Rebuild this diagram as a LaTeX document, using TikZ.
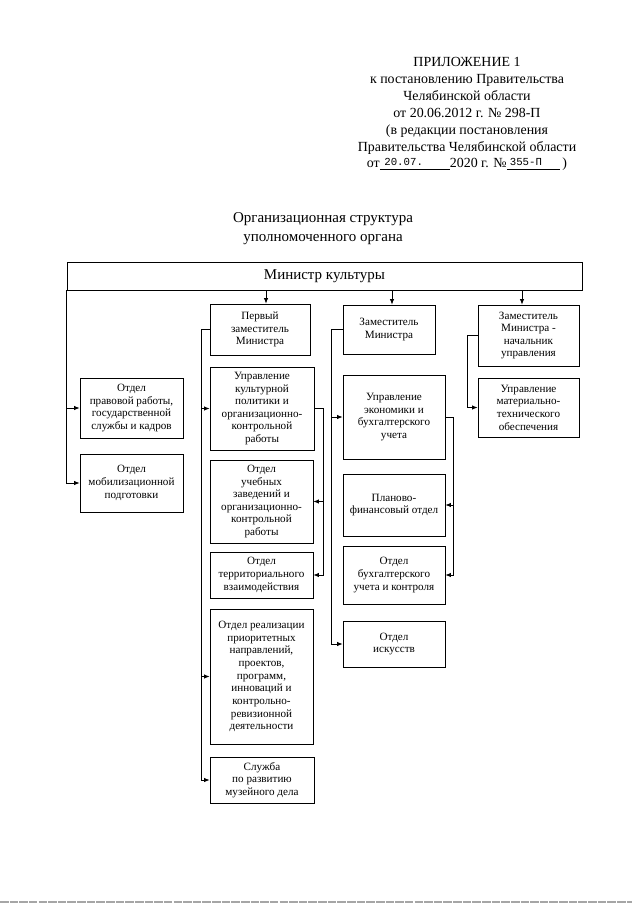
\documentclass[tikz,border=0pt]{standalone}
\usepackage{fontspec}
\setmainfont{Liberation Serif}
\newfontfamily\stampf{Liberation Mono}
\usetikzlibrary{arrows.meta,calc}
\newlength{\pxu}\setlength{\pxu}{0.328125mm}
\newcommand\orgbox[6]{\node[box, minimum width={(#4-#2)*\pxu}, minimum height={(#5-#3)*\pxu}] (#1) at ({(#2+#4)/2},{(#3+#5)/2}) {#6};}
\begin{document}
\begin{tikzpicture}[x=0.328125mm,y=-0.328125mm,
  box/.style={draw, line width=0.75pt, align=center, inner sep=0pt, font=\fontsize{10.4}{11.8}\selectfont},
  arr/.style={line width=0.75pt, -{Latex[length=5pt,width=4pt]}},
  ln/.style={line width=0.75pt}]
\fill[white] (0,0) rectangle (640,905);
\useasboundingbox (0,0) rectangle (640,905);

% header
\node[font=\fontsize{13}{15.8}\selectfont, align=center, anchor=north, inner sep=0pt] (hdr) at (467,57)
{ПРИЛОЖЕНИЕ 1\\к постановлению Правительства\\Челябинской области\\от 20.06.2012 г. № 298-П\\(в редакции постановления\\Правительства Челябинской области\\от\underline{\makebox[23mm][l]{\hspace{1.5mm}\raisebox{2.5pt}{\stampf\fontsize{10}{10}\selectfont 20.07.}}}2020 г. №\underline{\makebox[17.5mm][l]{\hspace{1mm}\raisebox{2.5pt}{\stampf\fontsize{10}{10}\selectfont 355-П}}}\,)};

% title
\node[font=\fontsize{14}{17.7}\selectfont, align=center, anchor=north, inner sep=0pt] (title) at (323,212)
{Организационная структура\\уполномоченного органа};

% boxes
\orgbox{min}{67}{262}{582}{290}{\fontsize{14}{16}\selectfont Министр культуры}
\orgbox{pravo}{80}{378}{183}{438}{Отдел\\правовой работы,\\государственной\\службы и кадров}
\orgbox{mob}{80}{454}{183}{512}{Отдел\\мобилизационной\\подготовки}
\orgbox{fd}{210}{304}{310}{355}{Первый\\заместитель\\Министра}
\orgbox{ukp}{210}{367}{314}{450}{Управление\\культурной\\политики и\\организационно-\\контрольной\\работы}
\orgbox{uch}{210}{460}{313}{543}{Отдел\\учебных\\заведений и\\организационно-\\контрольной\\работы}
\orgbox{terr}{210}{552}{313}{598}{Отдел\\территориального\\взаимодействия}
\orgbox{real}{210}{609}{313}{744}{Отдел реализации\\приоритетных\\направлений,\\проектов,\\программ,\\инноваций и\\контрольно-\\ревизионной\\деятельности}
\orgbox{muz}{210}{757}{314}{803}{Служба\\по развитию\\музейного дела}
\orgbox{dep}{343}{305}{435}{354}{Заместитель\\Министра}
\orgbox{econ}{343}{375}{445}{459}{Управление\\экономики и\\бухгалтерского\\учета}
\orgbox{plan}{343}{474}{445}{536}{Планово-\\финансовый отдел}
\orgbox{buh}{343}{546}{445}{604}{Отдел\\бухгалтерского\\учета и контроля}
\orgbox{isk}{343}{621}{445}{667}{Отдел\\искусств}
\orgbox{dh}{478}{305}{579}{366}{Заместитель\\Министра -\\начальник\\управления}
\orgbox{mat}{478}{378}{579}{437}{Управление\\материально-\\технического\\обеспечения}

% connectors from minister
\coordinate (a1) at (266,290);
\coordinate (a2) at (392,290);
\coordinate (a3) at (522,290);
\draw[arr] (a1) -- (a1 |- fd.north);
\draw[arr] (a2) -- (a2 |- dep.north);
\draw[arr] (a3) -- (a3 |- dh.north);
\draw[arr] (min.south west) |- (mob.west);
\draw[arr] (min.south west |- pravo.west) -- (pravo.west);

% first deputy
\coordinate (fdL) at (201,0);
\draw[arr] (fd.west) -- (fd.west -| fdL) |- (muz.west);
\draw[arr] (ukp.west -| fdL) -- (ukp.west);
\draw[arr] (real.west -| fdL) -- (real.west);

% culture policy department
\coordinate (ukpR) at (323,0);
\draw[arr] (ukp.east) -- (ukp.east -| ukpR) |- (terr.east);
\draw[arr] (uch.east -| ukpR) -- (uch.east);

% deputy
\coordinate (depL) at (331,0);
\draw[arr] (dep.west) -- (dep.west -| depL) |- (isk.west);
\draw[arr] (econ.west -| depL) -- (econ.west);

% economics department
\coordinate (econR) at (453,0);
\draw[arr] (econ.east) -- (econ.east -| econR) |- (buh.east);
\draw[arr] (plan.east -| econR) -- (plan.east);

% deputy - head
\coordinate (dhL) at (467,0);
\draw[arr] (dh.west) -- (dh.west -| dhL) |- (mat.west);

% bottom scan line
\draw[gray!70, line width=1pt, dash pattern=on 8pt off 1pt] (0,902) -- (632,902);
\end{tikzpicture}
\end{document}
